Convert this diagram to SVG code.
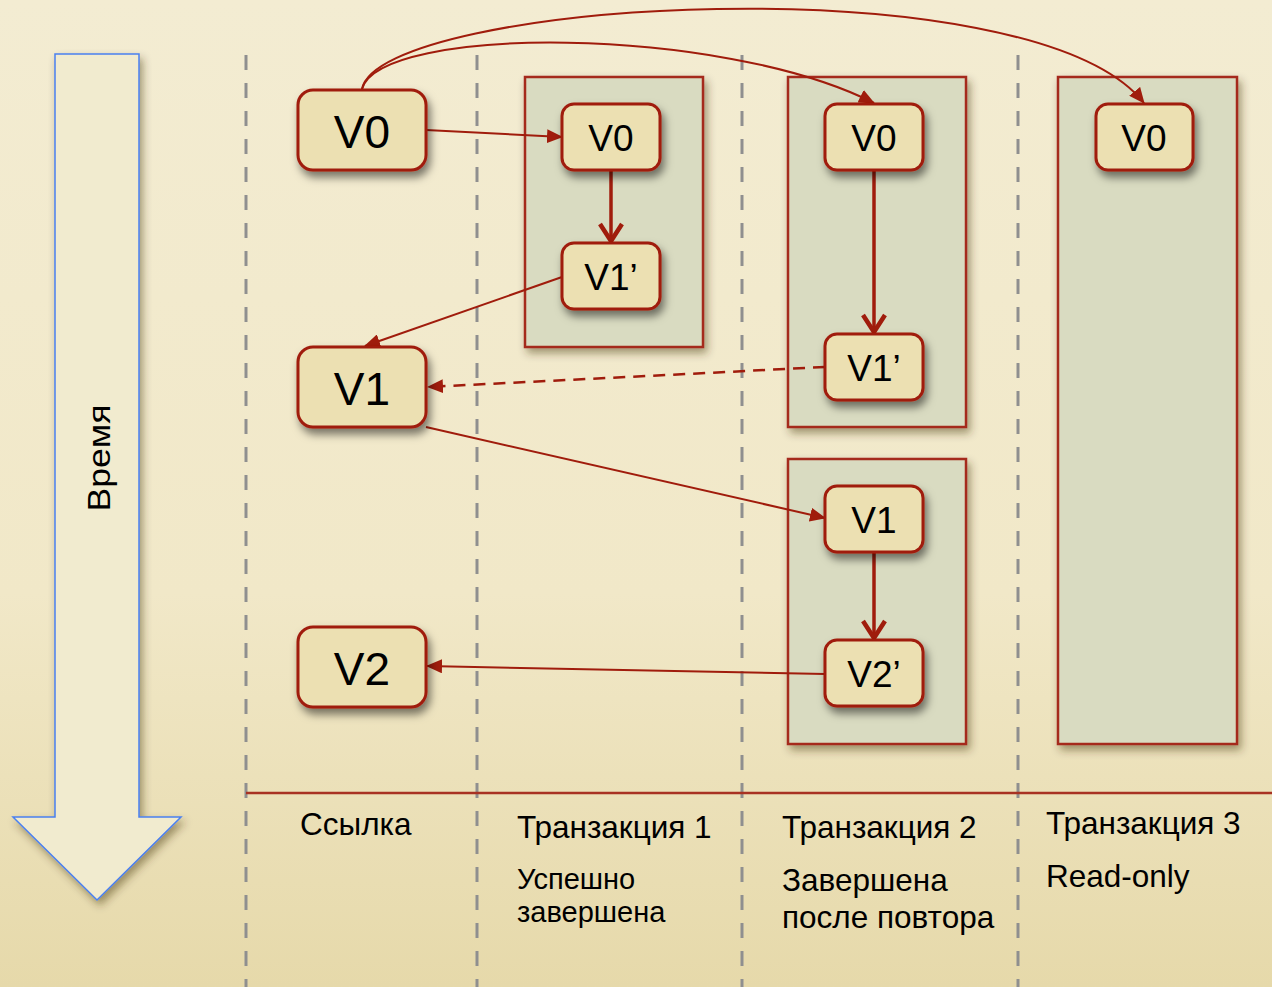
<svg xmlns="http://www.w3.org/2000/svg" width="1272" height="987" viewBox="0 0 1272 987">
  <defs>
    <linearGradient id="paper" x1="0" y1="0" x2="0" y2="1">
      <stop offset="0" stop-color="#f3ecd2"/>
      <stop offset="0.6" stop-color="#f1e8c8"/>
      <stop offset="1" stop-color="#e6d9aa"/>
    </linearGradient>
    <filter id="shadow" x="-20%" y="-20%" width="150%" height="150%">
      <feDropShadow dx="3" dy="6" stdDeviation="4" flood-color="#000" flood-opacity="0.5"/>
    </filter>
    <filter id="softShadow" x="-20%" y="-10%" width="150%" height="130%">
      <feDropShadow dx="3" dy="5" stdDeviation="4" flood-color="#3a2e10" flood-opacity="0.45"/>
    </filter>
    <marker id="tri" markerUnits="userSpaceOnUse" markerWidth="16" markerHeight="14" refX="15" refY="7" orient="auto">
      <path d="M0,0 L16,7 L0,14 z" fill="#a01c0c"/>
    </marker>
    <marker id="chev" markerUnits="userSpaceOnUse" markerWidth="26" markerHeight="28" refX="21" refY="13" orient="auto">
      <path d="M4,2 L21,13 L4,24" fill="none" stroke="#a01c0c" stroke-width="4.5" stroke-linejoin="miter"/>
    </marker>
  </defs>
  <style>
    .lane { stroke: #8f8f8f; stroke-width: 3; stroke-dasharray: 15 13; fill: none; }
    .txbox { fill: #d9dbc1; stroke: #a52a1a; stroke-width: 2.5; filter: url(#softShadow); }
    .node rect { fill: #ece0b2; stroke: #a01c0c; stroke-width: 3; filter: url(#shadow); }
    .big text { font-family: "Liberation Sans", Arial, sans-serif; font-size: 46px; fill: #000; text-anchor: middle; }
    .small text { font-family: "Liberation Sans", Arial, sans-serif; font-size: 37px; fill: #000; text-anchor: middle; }
    .edge { stroke: #a01c0c; stroke-width: 2; fill: none; marker-end: url(#tri); }
    .dashed { stroke-dasharray: 12 8; stroke-width: 2.5; }
    .thick { stroke: #a01c0c; stroke-width: 3.5; fill: none; marker-end: url(#chev); }
    .label { font-family: "Liberation Sans", Arial, sans-serif; font-size: 31.5px; fill: #000; }
    .note { font-family: "Liberation Sans", Arial, sans-serif; font-size: 29px; fill: #000; }
  </style>

  <!-- parchment background -->
  <rect x="0" y="0" width="1272" height="987" fill="url(#paper)"/>

  <!-- time arrow -->
  <g id="time-arrow">
    <polygon points="55,54 139,54 139,817 181,817 97,900 13,817 55,817" fill="#f1ebcf" stroke="#4a80f0" stroke-width="1.5" filter="url(#softShadow)"/>
    <text x="0" y="0" transform="translate(110,458) rotate(-90)" font-family="Liberation Sans, Arial, sans-serif" font-size="31" text-anchor="middle" textLength="107" lengthAdjust="spacingAndGlyphs" fill="#000">Время</text>
  </g>

  <!-- column separators -->
  <g id="lanes">
    <line class="lane" x1="246" y1="55" x2="246" y2="987"/>
    <line class="lane" x1="477" y1="55" x2="477" y2="987"/>
    <line class="lane" x1="742" y1="55" x2="742" y2="987"/>
    <line class="lane" x1="1018" y1="55" x2="1018" y2="987"/>
    <line x1="246" y1="793" x2="1272" y2="793" stroke="#a83222" stroke-width="2.5"/>
  </g>

  <!-- transaction frames -->
  <g id="tx1-frame"><rect class="txbox" x="525" y="77" width="178" height="270"/></g>
  <g id="tx2-frame-a"><rect class="txbox" x="788" y="77" width="178" height="350"/></g>
  <g id="tx2-frame-b"><rect class="txbox" x="788" y="459" width="178" height="285"/></g>
  <g id="tx3-frame"><rect class="txbox" x="1058" y="77" width="179" height="667"/></g>

  <!-- connectors -->
  <g id="connectors">
    <path class="edge" d="M362,89 C380,25 720,25 874,103"/>
    <path class="edge" d="M362,89 C380,0 1030,-40 1144,103"/>
    <line class="edge" x1="426" y1="130" x2="562" y2="137"/>
    <line class="thick" x1="611" y1="170" x2="611" y2="241"/>
    <line class="edge" x1="562" y1="277" x2="365" y2="346"/>
    <line class="edge dashed" x1="825" y1="367" x2="428" y2="387"/>
    <line class="edge" x1="426" y1="427" x2="825" y2="518"/>
    <line class="thick" x1="874" y1="170" x2="874" y2="332"/>
    <line class="thick" x1="874" y1="552" x2="874" y2="638"/>
    <line class="edge" x1="825" y1="674" x2="427" y2="666"/>
  </g>

  <!-- reference versions -->
  <g id="ref-v0" class="node big"><rect x="298" y="90" width="128" height="80" rx="15"/><text x="362" y="148">V0</text></g>
  <g id="ref-v1" class="node big"><rect x="298" y="347" width="128" height="80" rx="15"/><text x="362" y="405">V1</text></g>
  <g id="ref-v2" class="node big"><rect x="298" y="627" width="128" height="80" rx="15"/><text x="362" y="685">V2</text></g>

  <!-- transaction 1 -->
  <g id="tx1-v0" class="node small"><rect x="562" y="104" width="98" height="66" rx="12"/><text x="611" y="151">V0</text></g>
  <g id="tx1-v1p" class="node small"><rect x="562" y="243" width="98" height="66" rx="12"/><text x="611" y="290">V1’</text></g>

  <!-- transaction 2 -->
  <g id="tx2-v0" class="node small"><rect x="825" y="104" width="98" height="66" rx="12"/><text x="874" y="151">V0</text></g>
  <g id="tx2-v1p" class="node small"><rect x="825" y="334" width="98" height="66" rx="12"/><text x="874" y="381">V1’</text></g>
  <g id="tx2-v1" class="node small"><rect x="825" y="486" width="98" height="66" rx="12"/><text x="874" y="533">V1</text></g>
  <g id="tx2-v2p" class="node small"><rect x="825" y="640" width="98" height="66" rx="12"/><text x="874" y="687">V2’</text></g>

  <!-- transaction 3 -->
  <g id="tx3-v0" class="node small"><rect x="1096" y="104" width="97" height="66" rx="12"/><text x="1144" y="151">V0</text></g>

  <!-- column captions -->
  <g id="captions">
    <text class="label" x="300" y="835">Ссылка</text>
    <text class="label" x="517" y="838">Транзакция 1</text>
    <text class="note" x="517" y="889">Успешно</text>
    <text class="note" x="517" y="922">завершена</text>
    <text class="label" x="782" y="838">Транзакция 2</text>
    <text class="label" x="782" y="891">Завершена</text>
    <text class="label" x="782" y="928">после повтора</text>
    <text class="label" x="1046" y="834">Транзакция 3</text>
    <text class="label" x="1046" y="887">Read-only</text>
  </g>
</svg>
